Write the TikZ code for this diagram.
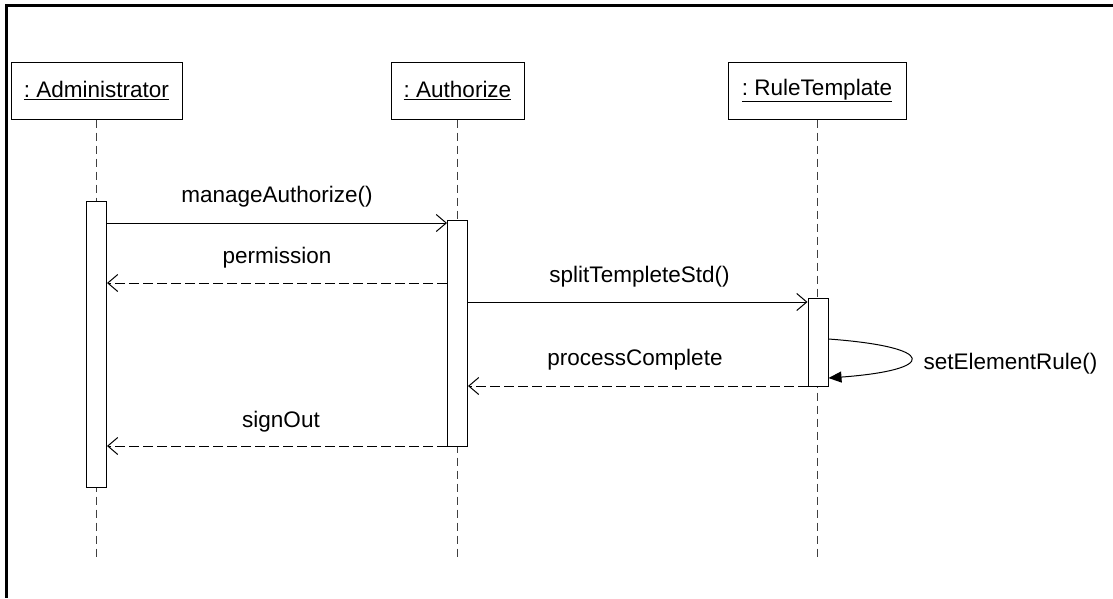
\documentclass[tikz,border=0pt]{standalone}
\usepackage{fontspec}
\setmainfont{Liberation Sans}
\usetikzlibrary{arrows.meta}
\frenchspacing
\begin{document}
\begin{tikzpicture}[x=1pt,y=-1pt,
  font=\fontsize{22.5}{27}\selectfont,
  obj/.style={draw, line width=1pt, minimum height=57pt, inner sep=0pt},
  actbar/.style={draw, line width=1pt, fill=white, minimum width=20pt, inner sep=0pt, anchor=north},
  lifeline/.style={line width=1pt, dash pattern=on 8pt off 5pt, black!75},
  call/.style={line width=1pt, -{Straight Barb[length=10pt,width=17pt,line width=1pt]}},
  reply/.style={call, dash pattern=on 10pt off 4pt},
  selfcall/.style={line width=1pt, -{Triangle[length=13pt,width=11pt]}},
  lbl/.style={anchor=base, inner sep=0pt}
]
\useasboundingbox (0,0) rectangle (1113,598);

% outer frame (top and left edges)
\draw[line width=3pt] (1113,5) -- (6,5) -- (6,598);

% participants
\node[obj, minimum width=171pt] (adm) at (96.5,90.5) {\underline{: Administrator}};
\node[obj, minimum width=133pt] (aut) at (457.5,90.5) {\underline{: Authorize}};
\node[obj, minimum width=178pt] (rul) at (817,90.5) {\underline{: RuleTemplate}};

% lifeline ends
\coordinate (admEnd) at (adm.south |- 0,557);
\coordinate (autEnd) at (aut.south |- 0,557);
\coordinate (rulEnd) at (rul.south |- 0,557);

\draw[lifeline] (adm.south) -- (admEnd);
\draw[lifeline] (aut.south) -- (autEnd);
\draw[lifeline] (rul.south) -- (rulEnd);

% activation bars
\node[actbar, minimum height=286pt] (admBar) at (96.5,201) {};
\node[actbar, minimum height=226pt] (autBar) at (457.5,220) {};
\node[actbar, minimum height=88pt]  (rulBar) at (818,298) {};

% messages
\draw[call]  (admBar.east |- 0,223) -- (autBar.west |- 0,223);
\node[lbl] (m1) at (277,202) {manageAuthorize()};

\draw[reply] (autBar.west |- 0,283) -- (admBar.east |- 0,283);
\node[lbl] (m2) at (277,263) {permission};

\draw[call]  (autBar.east |- 0,302) -- (rulBar.west |- 0,302);
\node[lbl] (m3) at (639.5,282) {splitTempleteStd()};

\draw[selfcall] (rulBar.east |- 0,339) .. controls (938,347) and (938,370) .. (rulBar.east |- 0,378);
\node[lbl] (m4) at (1010.5,369) {setElementRule()};

\draw[reply] (rulBar.west |- 0,386) -- (autBar.east |- 0,386);
\node[lbl] (m5) at (635,365) {processComplete};

\draw[reply] (autBar.west |- 0,446) -- (admBar.east |- 0,446);
\node[lbl] (m6) at (281,427) {signOut};
\end{tikzpicture}
\end{document}
